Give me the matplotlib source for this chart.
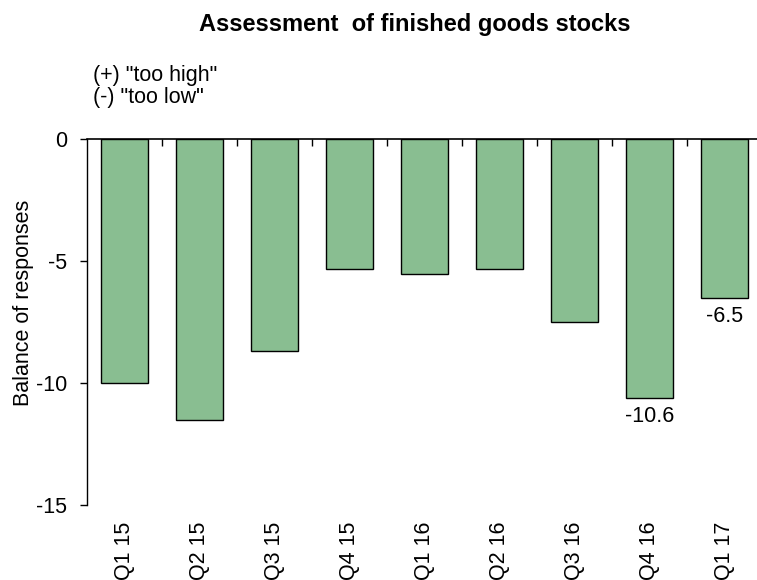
import matplotlib
matplotlib.use("Agg")
import matplotlib.pyplot as plt
import numpy as np

categories = ["Q1 15", "Q2 15", "Q3 15", "Q4 15", "Q1 16", "Q2 16", "Q3 16", "Q4 16", "Q1 17"]
values = [-10.0, -11.5, -8.7, -5.3, -5.5, -5.3, -7.5, -10.6, -6.5]
labelled = [7, 8]
yticks = [0, -5, -10, -15]

plt.rcParams['font.family'] = ['Liberation Sans', 'DejaVu Sans']
FS = 15.5

fig = plt.figure(figsize=(7.57, 5.80), dpi=100)
ax = fig.add_axes([0.1147, 0.1293, 0.8917, 0.6302])

x = np.arange(len(categories))
ax.bar(x, values, width=0.62, color='#89BE91', edgecolor='black', linewidth=1.0, zorder=2)

for i in labelled:
    ax.annotate(f"{values[i]:.1f}", xy=(x[i], values[i]), xytext=(0, -6),
                textcoords='offset points', ha='center', va='top', fontsize=FS)

ax.set_xlim(-0.5, len(categories) - 0.5)
ax.set_ylim(-15, 0)
ax.set_yticks(yticks)
ax.set_yticklabels([str(v) for v in yticks], fontsize=FS)
ax.tick_params(axis='y', direction='out', length=5, width=1, pad=9)

ax.set_xticks(x)
ax.set_xticklabels(categories, rotation=90, fontsize=FS)
ax.set_xticks(x[:-1] + 0.5, minor=True)
ax.tick_params(axis='x', which='major', bottom=True, top=False, length=0, pad=12)
ax.tick_params(axis='x', which='minor', bottom=False, top=True, direction='in', length=5, width=1)

for s in ['right', 'bottom']:
    ax.spines[s].set_visible(False)
ax.spines['top'].set_linewidth(1.2)
ax.spines['left'].set_linewidth(1.0)

fig.text(415/757, 1 - 31/580, "Assessment  of finished goods stocks", ha='center', va='baseline',
         fontsize=17, fontweight='bold')
fig.text(93/757, 1 - 81/580, '(+) "too high"', ha='left', va='baseline', fontsize=FS)
fig.text(93/757, 1 - 103/580, '(-) "too low"', ha='left', va='baseline', fontsize=FS)
fig.text(24/757, 1 - 303/580, "Balance of responses", rotation=90, ha='center', va='center', fontsize=FS)

fig.savefig("out.png", dpi=100)
